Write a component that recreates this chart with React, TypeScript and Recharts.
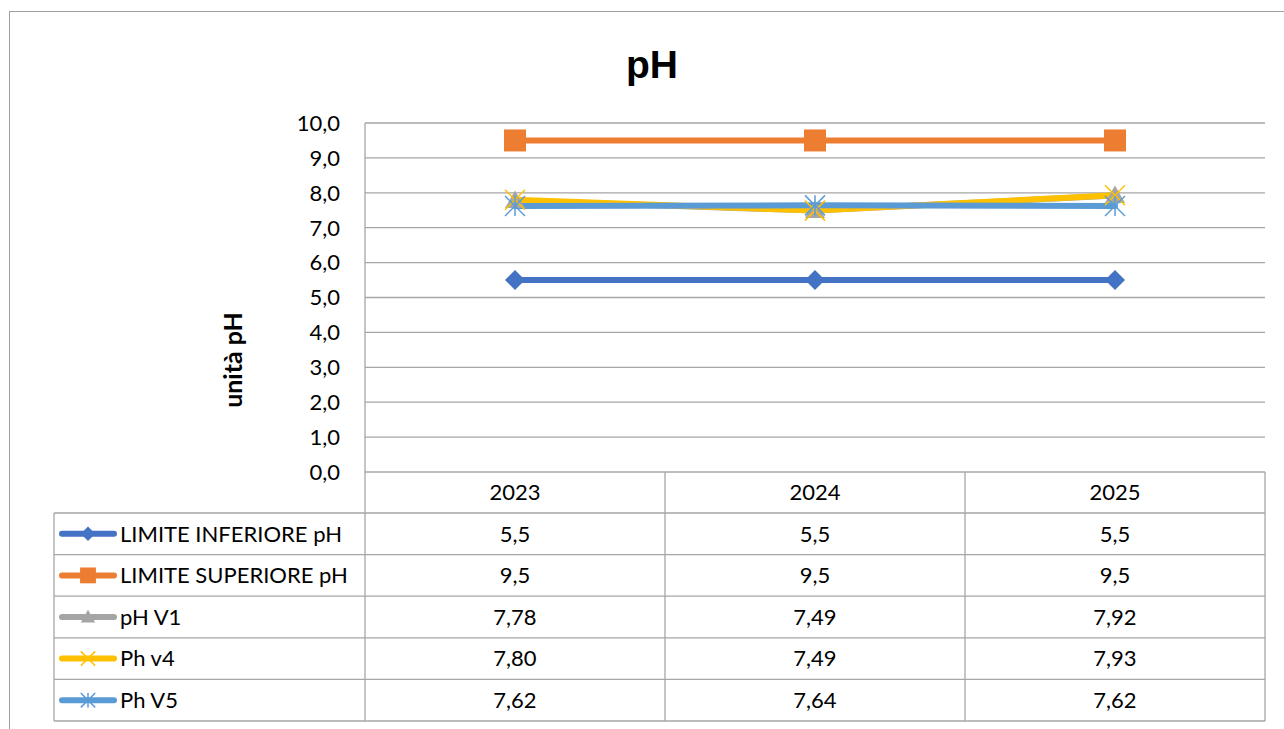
import React from "react";
import { CartesianGrid, Line, LineChart, XAxis, YAxis } from "recharts";

const YEARS = ["2023", "2024", "2025"];
const LIMITE_INFERIORE = [5.5, 5.5, 5.5];
const LIMITE_SUPERIORE = [9.5, 9.5, 9.5];
const PH_V1 = [7.78, 7.49, 7.92];
const PH_V4 = [7.8, 7.49, 7.93];
const PH_V5 = [7.62, 7.64, 7.62];
const Y_TICKS = [0, 1, 2, 3, 4, 5, 6, 7, 8, 9, 10];

type MarkerKind = "diamond" | "square" | "triangle" | "x" | "star";

interface Series {
  key: string;
  name: string;
  values: number[];
  decimals: number;
  color: string;
  marker: MarkerKind;
  size: number;
}

const SERIES: Series[] = [
  { key: "inf", name: "LIMITE INFERIORE pH", values: LIMITE_INFERIORE, decimals: 1, color: "#4472C4", marker: "diamond", size: 20 },
  { key: "sup", name: "LIMITE SUPERIORE pH", values: LIMITE_SUPERIORE, decimals: 1, color: "#ED7D31", marker: "square", size: 22 },
  { key: "v1", name: "pH V1", values: PH_V1, decimals: 2, color: "#A5A5A5", marker: "triangle", size: 20 },
  { key: "v4", name: "Ph v4", values: PH_V4, decimals: 2, color: "#FFC000", marker: "x", size: 20 },
  { key: "v5", name: "Ph V5", values: PH_V5, decimals: 2, color: "#5B9BD5", marker: "star", size: 20 },
];

const data = YEARS.map((year, i) => {
  const row: Record<string, string | number> = { year };
  SERIES.forEach((s) => (row[s.key] = s.values[i]));
  return row;
});

const W = 1284;
const H = 729;
const PLOT_LEFT = 365;
const PLOT_RIGHT = 1265;
const PLOT_TOP = 123;
const PLOT_BOTTOM = 472;
const TABLE_LEFT = 54;
const HEADER_H = 41;
const ROW_H = 41.6;
const GRID = "#a6a6a6";
const FONT = "Lato, 'Open Sans', sans-serif";
const FS = 22;

const fmt = (v: number, d: number) => v.toFixed(d).replace(".", ",");

const Marker = ({ kind, cx, cy, color, size }: { kind: MarkerKind; cx: number; cy: number; color: string; size: number }) => {
  const h = size / 2;
  switch (kind) {
    case "diamond":
      return <polygon points={`${cx},${cy - h} ${cx + h},${cy} ${cx},${cy + h} ${cx - h},${cy}`} fill={color} />;
    case "square":
      return <rect x={cx - h} y={cy - h} width={size} height={size} fill={color} />;
    case "triangle":
      return <polygon points={`${cx},${cy - h} ${cx + h},${cy + h * 0.75} ${cx - h},${cy + h * 0.75}`} fill={color} />;
    case "x":
      return (
        <g stroke={color} strokeWidth={1.5}>
          <line x1={cx - h} y1={cy - h} x2={cx + h} y2={cy + h} />
          <line x1={cx - h} y1={cy + h} x2={cx + h} y2={cy - h} />
        </g>
      );
    default:
      return (
        <g stroke={color} strokeWidth={1.5}>
          <line x1={cx - h} y1={cy - h} x2={cx + h} y2={cy + h} />
          <line x1={cx - h} y1={cy + h} x2={cx + h} y2={cy - h} />
          <line x1={cx} y1={cy - h} x2={cx} y2={cy + h} />
        </g>
      );
  }
};

const rowMid = (r: number) => PLOT_BOTTOM + HEADER_H + ROW_H * r + ROW_H / 2;

// x axis ticks draw the whole column of the data table
const TableColumn = (props: any) => {
  const { x, payload } = props;
  const i = payload.index;
  return (
    <g fontFamily={FONT} fontSize={FS} fill="#000">
      <text x={x} y={PLOT_BOTTOM + HEADER_H / 2} dy="0.35em" textAnchor="middle">
        {payload.value}
      </text>
      {SERIES.map((s, r) => (
        <text key={s.key} x={x} y={rowMid(r)} dy="0.35em" textAnchor="middle">
          {fmt(s.values[i], s.decimals)}
        </text>
      ))}
    </g>
  );
};

const Overlay = () => {
  const rowLines = [0, 1, 2, 3, 4, 5].map((r) => PLOT_BOTTOM + HEADER_H + ROW_H * r);
  const tableBottom = rowLines[rowLines.length - 1];
  const cols = [665, 965, PLOT_RIGHT];
  return (
    <svg width={W} height={H} style={{ position: "absolute", left: 0, top: 0, pointerEvents: "none" }}>
      <g stroke={GRID} strokeWidth={1.3}>
        {rowLines.map((y) => (
          <line key={y} x1={TABLE_LEFT} x2={PLOT_RIGHT} y1={y} y2={y} />
        ))}
        <line x1={TABLE_LEFT} x2={TABLE_LEFT} y1={rowLines[0]} y2={tableBottom} />
        <line x1={PLOT_LEFT} x2={PLOT_LEFT} y1={PLOT_TOP} y2={tableBottom} />
        {cols.map((x) => (
          <line key={x} x1={x} x2={x} y1={PLOT_BOTTOM} y2={tableBottom} />
        ))}
      </g>
      {SERIES.map((s, r) => (
        <g key={s.key}>
          <line x1={62} x2={114} y1={rowMid(r)} y2={rowMid(r)} stroke={s.color} strokeWidth={6} strokeLinecap="round" />
          <Marker kind={s.marker} cx={88} cy={rowMid(r)} color={s.color} size={s.size * 0.72} />
          <text x={120} y={rowMid(r)} dy="0.35em" fontFamily={FONT} fontSize={FS} fill="#000">
            {s.name}
          </text>
        </g>
      ))}
      <text x={652} y={78} textAnchor="middle" fontFamily="'Liberation Sans', Arial, sans-serif" fontWeight="bold" fontSize={39} fill="#000">
        pH
      </text>
      <text
        transform="translate(242,360) rotate(-90)"
        textAnchor="middle"
        fontFamily={FONT}
        fontWeight="bold"
        fontSize={25}
        fill="#000"
      >
        unità pH
      </text>
    </svg>
  );
};

export default function App() {
  return (
    <div style={{ position: "absolute", left: 0, top: 0, width: W, height: H, overflow: "hidden", background: "#fff" }}>
      <div style={{ position: "absolute", left: 9, top: 11, width: 1400, height: 900, border: "1px solid #a0a0a0" }} />
      <div style={{ position: "absolute", left: 0, top: 0 }}>
        <LineChart width={W} height={H} data={data} margin={{ top: PLOT_TOP, right: W - PLOT_RIGHT, bottom: 7, left: PLOT_LEFT - 60 }}>
          <CartesianGrid vertical={false} stroke={GRID} strokeWidth={1.3} />
          <XAxis
            dataKey="year"
            height={250}
            padding={{ left: 150, right: 150 }}
            axisLine={false}
            tickLine={false}
            tickSize={0}
            tickMargin={0}
            tick={<TableColumn />}
            interval={0}
          />
          <YAxis
            width={60}
            domain={[0, 10]}
            ticks={Y_TICKS}
            axisLine={false}
            tickLine={false}
            tickSize={0}
            tickMargin={25}
            tickFormatter={(v: number) => fmt(v, 1)}
            tick={{ fontFamily: FONT, fontSize: FS, fill: "#000" }}
          />
          {SERIES.map((s) => (
            <Line
              key={s.key}
              dataKey={s.key}
              name={s.name}
              stroke={s.color}
              strokeWidth={6}
              strokeLinecap="round"
              isAnimationActive={false}
              dot={(p: any) => (
                <Marker key={`${s.key}-${p.index}`} kind={s.marker} cx={p.cx} cy={p.cy} color={s.color} size={s.size} />
              )}
              activeDot={false}
            />
          ))}
        </LineChart>
      </div>
      <Overlay />
    </div>
  );
}
